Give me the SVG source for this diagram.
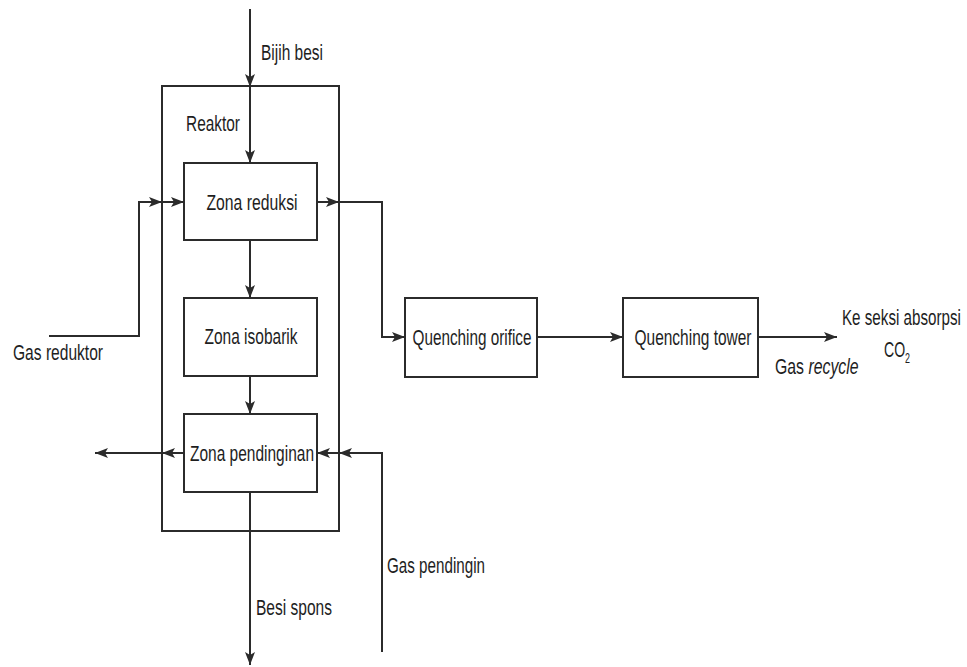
<svg xmlns="http://www.w3.org/2000/svg" width="967" height="667" viewBox="0 0 967 667">
  <style>
    .box { fill: none; stroke: #2b2b2b; stroke-width: 2; }
    .flow { fill: none; stroke: #2b2b2b; stroke-width: 2; }
    text { font-family: "Liberation Sans Narrow", "Liberation Sans", Arial, sans-serif; font-size: 22px; fill: #1e1e1e; }
    .mid { text-anchor: middle; }
  </style>
  <defs>
    <marker id="arrow" markerUnits="userSpaceOnUse" markerWidth="14" markerHeight="11" refX="13" refY="5" orient="auto">
      <path d="M0,0 L13,5 L0,10 L3,5 z" fill="#2b2b2b"/>
    </marker>
  </defs>
  <rect width="967" height="667" fill="#ffffff"/>

  <!-- reactor shell -->
  <g id="reaktor">
    <rect class="box" x="162" y="86" width="177" height="445"/>
    <text x="186" y="131" textLength="54" lengthAdjust="spacingAndGlyphs">Reaktor</text>
  </g>

  <g id="zona-reduksi">
    <rect class="box" x="184" y="163" width="133" height="77"/>
    <text class="mid" x="252" y="210" textLength="91" lengthAdjust="spacingAndGlyphs">Zona reduksi</text>
  </g>

  <g id="zona-isobarik">
    <rect class="box" x="184" y="298" width="133" height="78"/>
    <text class="mid" x="251" y="344" textLength="93" lengthAdjust="spacingAndGlyphs">Zona isobarik</text>
  </g>

  <g id="zona-pendinginan">
    <rect class="box" x="184" y="414" width="133" height="78"/>
    <text class="mid" x="252" y="461" textLength="124" lengthAdjust="spacingAndGlyphs">Zona pendinginan</text>
  </g>

  <g id="quenching-orifice">
    <rect class="box" x="405" y="298" width="132" height="79"/>
    <text class="mid" x="472" y="345" textLength="119" lengthAdjust="spacingAndGlyphs">Quenching orifice</text>
  </g>

  <g id="quenching-tower">
    <rect class="box" x="623" y="298" width="135" height="79"/>
    <text class="mid" x="693" y="345" textLength="117" lengthAdjust="spacingAndGlyphs">Quenching tower</text>
  </g>

  <!-- connectors -->
  <g id="connectors">
    <!-- iron ore feed -->
    <line class="flow" x1="250" y1="9" x2="250" y2="87" marker-end="url(#arrow)"/>
    <line class="flow" x1="250" y1="87" x2="250" y2="163" marker-end="url(#arrow)"/>
    <!-- reducing gas in -->
    <polyline class="flow" points="49,336 139,336 139,202 162,202" marker-end="url(#arrow)"/>
    <line class="flow" x1="162" y1="202" x2="184" y2="202" marker-end="url(#arrow)"/>
    <!-- top gas out to quenching -->
    <line class="flow" x1="317" y1="202" x2="339" y2="202" marker-end="url(#arrow)"/>
    <polyline class="flow" points="339,202 382,202 382,337 405,337" marker-end="url(#arrow)"/>
    <!-- solids down the shaft -->
    <line class="flow" x1="250" y1="240" x2="250" y2="298" marker-end="url(#arrow)"/>
    <line class="flow" x1="250" y1="376" x2="250" y2="414" marker-end="url(#arrow)"/>
    <line class="flow" x1="250" y1="492" x2="250" y2="665" marker-end="url(#arrow)"/>
    <!-- cooling gas out -->
    <line class="flow" x1="184" y1="453" x2="162" y2="453" marker-end="url(#arrow)"/>
    <line class="flow" x1="162" y1="453" x2="95" y2="453" marker-end="url(#arrow)"/>
    <!-- cooling gas in -->
    <polyline class="flow" points="382,652 382,453 339,453" marker-end="url(#arrow)"/>
    <line class="flow" x1="339" y1="453" x2="317" y2="453" marker-end="url(#arrow)"/>
    <!-- quenching train -->
    <line class="flow" x1="537" y1="337" x2="623" y2="337" marker-end="url(#arrow)"/>
    <line class="flow" x1="758" y1="337" x2="837" y2="337" marker-end="url(#arrow)"/>
  </g>

  <!-- stream labels -->
  <g id="labels">
    <text x="261" y="60" textLength="62" lengthAdjust="spacingAndGlyphs">Bijih besi</text>
    <text x="13" y="360" textLength="90" lengthAdjust="spacingAndGlyphs">Gas reduktor</text>
    <text x="256" y="615" textLength="76" lengthAdjust="spacingAndGlyphs">Besi spons</text>
    <text x="387" y="573" textLength="98" lengthAdjust="spacingAndGlyphs">Gas pendingin</text>
    <!-- condensed labels drawn with a horizontal squeeze -->
    <text transform="translate(842,325) scale(0.69,1)">Ke seksi absorpsi</text>
    <text transform="translate(884,357) scale(0.64,1)">CO<tspan dy="6" style="font-size:14px">2</tspan></text>
    <text transform="translate(775,374) scale(0.72,1)">Gas <tspan font-style="italic">recycle</tspan></text>
  </g>
</svg>
